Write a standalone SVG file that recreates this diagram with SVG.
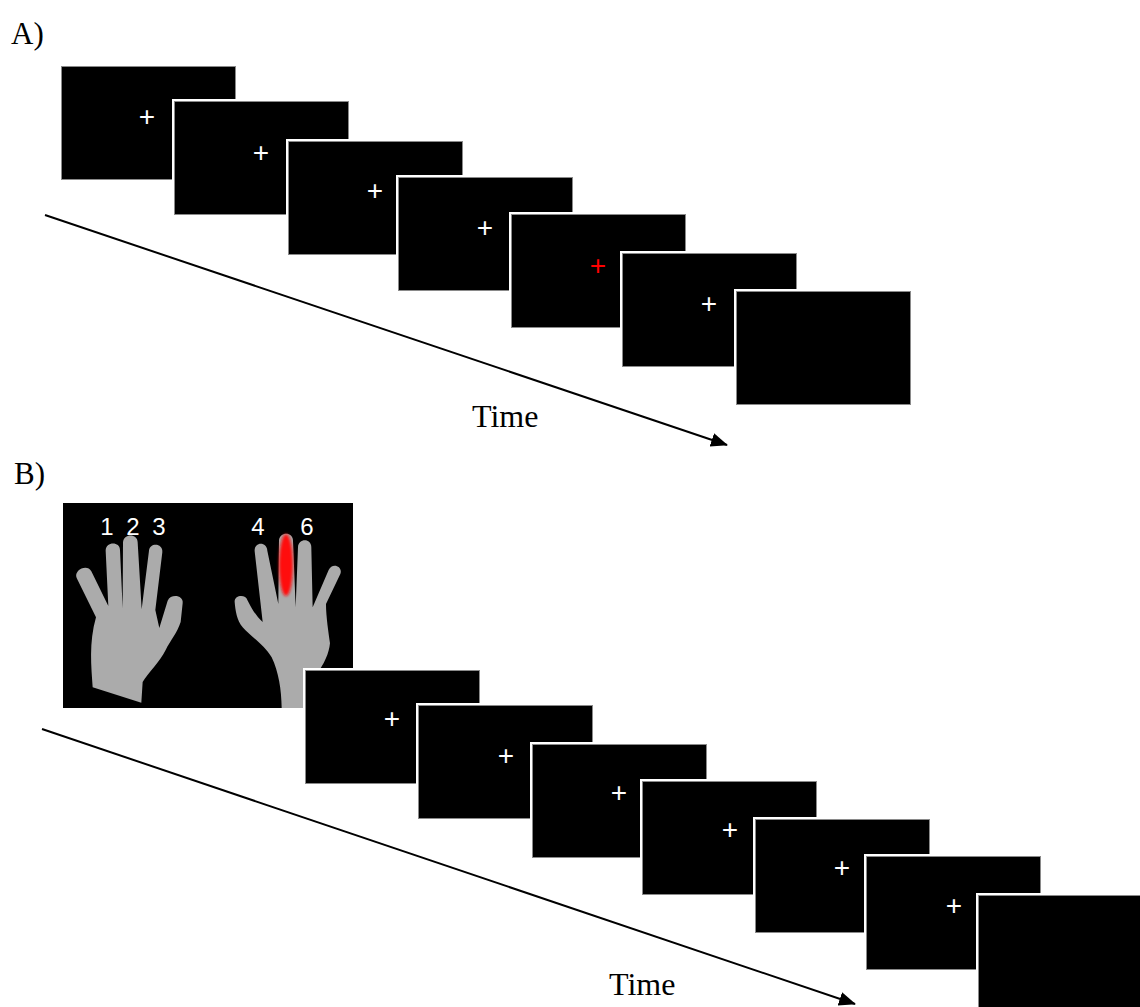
<svg xmlns="http://www.w3.org/2000/svg" xmlns:xlink="http://www.w3.org/1999/xlink" width="1140" height="1007" viewBox="0 0 1140 1007">
  <style>
    .lbl { font-family: "Liberation Serif", "Times New Roman", serif; fill: #000; }
    .panel { font-size: 31px; }
    .time { font-size: 32px; }
    .fix { font-family: "Liberation Sans", Arial, sans-serif; font-size: 28px; fill: #fff; text-anchor: middle; }
    .fix.red { fill: #ff0000; }
    .num { font-family: "Liberation Sans", Arial, sans-serif; font-size: 24px; fill: #fff; text-anchor: middle; }
    .axis { stroke: #000; stroke-width: 2; fill: none; }
    .hand { fill: #ababab; }
  </style>
  <defs>
    <!-- one black screen: white gap, thin grey rim, black face -->
    <g id="screen">
      <rect x="-3" y="-3" width="179" height="118" fill="#fff"/>
      <rect x="-0.5" y="-0.5" width="174" height="113" fill="#000" stroke="#8a8a8a" stroke-width="1"/>
    </g>
    <marker id="head" viewBox="0 -8 17 16" refX="16" refY="0" markerWidth="17" markerHeight="16" markerUnits="userSpaceOnUse" orient="auto">
      <path d="M0,-7 L17,0 L0,7 Z" fill="#000"/>
    </marker>
    <filter id="soft" x="-50%" y="-20%" width="200%" height="140%">
      <feGaussianBlur stdDeviation="1.6"/>
    </filter>
    <clipPath id="photoClip">
      <rect x="63" y="503" width="290" height="205"/>
    </clipPath>
  </defs>

  <!-- panel labels -->
  <text class="lbl panel" x="11" y="44">A)</text>
  <text class="lbl panel" x="14" y="484">B)</text>

  <!-- time axes -->
  <g id="connectors">
    <line class="axis" x1="45" y1="215" x2="727" y2="445" marker-end="url(#head)"/>
    <line class="axis" x1="42" y1="729" x2="855" y2="1004" marker-end="url(#head)"/>
  </g>
  <text class="lbl time" x="472" y="427">Time</text>
  <text class="lbl time" x="609" y="995">Time</text>

  <!-- panel A: fixation sequence -->
  <g id="a1" transform="translate(62,67)"><use xlink:href="#screen"/><text class="fix" x="85" y="59">+</text></g>
  <g id="a2" transform="translate(175,102)"><use xlink:href="#screen"/><text class="fix" x="86" y="60">+</text></g>
  <g id="a3" transform="translate(289,142)"><use xlink:href="#screen"/><text class="fix" x="86" y="58">+</text></g>
  <g id="a4" transform="translate(399,178)"><use xlink:href="#screen"/><text class="fix" x="86" y="59">+</text></g>
  <g id="a5" transform="translate(512,215)"><use xlink:href="#screen"/><text class="fix red" x="86" y="60">+</text></g>
  <g id="a6" transform="translate(623,254)"><use xlink:href="#screen"/><text class="fix" x="86" y="59">+</text></g>
  <g id="a7" transform="translate(737,292)"><use xlink:href="#screen"/></g>

  <!-- panel B: hands cue picture -->
  <g id="hands" clip-path="url(#photoClip)">
    <rect x="63" y="503" width="290" height="205" fill="#000"/>
    <!-- left hand, back view -->
    <path class="hand" transform="translate(60 500) scale(0.3333)"
      d="M98,562 C94,500 86,430 108,352 L50,234 C40,210 82,190 94,214 L145,318
         L137,152 C137,124 180,124 180,150 L188,325
         L189,128 C190,100 233,100 233,127 L245,328
         L267,152 C270,126 310,130 307,157 L286,330
         L298,384 L323,302 C333,280 372,286 368,310 L362,366
         C352,398 332,420 317,450 C302,482 264,520 248,546 L244,608 Z"/>
    <!-- right hand, back view -->
    <path class="hand" transform="translate(200 500) scale(0.3333)"
      d="M245,640 C246,580 238,520 215,472 C192,432 150,408 128,382 C110,360 106,330 104,306
         C102,284 138,282 142,300 C154,324 166,346 188,366
         L164,154 C162,124 201,124 202,152 L235,312
         L237,122 C238,94 280,94 279,123 L287,322
         L294,142 C295,114 335,114 334,143 L338,322
         L386,210 C396,186 430,198 421,222 L378,312
         C378,350 386,400 390,430 C387,460 374,490 347,528 L480,560 L480,700 L250,700 Z"/>
    <!-- highlighted finger -->
    <ellipse cx="286" cy="565" rx="7" ry="31" fill="#ff1010" filter="url(#soft)"/>
    <text class="num" x="107" y="535">1</text>
    <text class="num" x="133" y="535">2</text>
    <text class="num" x="159" y="535">3</text>
    <text class="num" x="258" y="535">4</text>
    <text class="num" x="307" y="535">6</text>
  </g>

  <!-- panel B: fixation sequence -->
  <g id="b1" transform="translate(306,671)"><use xlink:href="#screen"/><text class="fix" x="86" y="57">+</text></g>
  <g id="b2" transform="translate(419,706)"><use xlink:href="#screen"/><text class="fix" x="87" y="59">+</text></g>
  <g id="b3" transform="translate(533,745)"><use xlink:href="#screen"/><text class="fix" x="86" y="57">+</text></g>
  <g id="b4" transform="translate(643,782)"><use xlink:href="#screen"/><text class="fix" x="87" y="57">+</text></g>
  <g id="b5" transform="translate(756,820)"><use xlink:href="#screen"/><text class="fix" x="86" y="57">+</text></g>
  <g id="b6" transform="translate(867,857)"><use xlink:href="#screen"/><text class="fix" x="87" y="58">+</text></g>
  <g id="b7" transform="translate(979,896)"><use xlink:href="#screen"/></g>
</svg>
